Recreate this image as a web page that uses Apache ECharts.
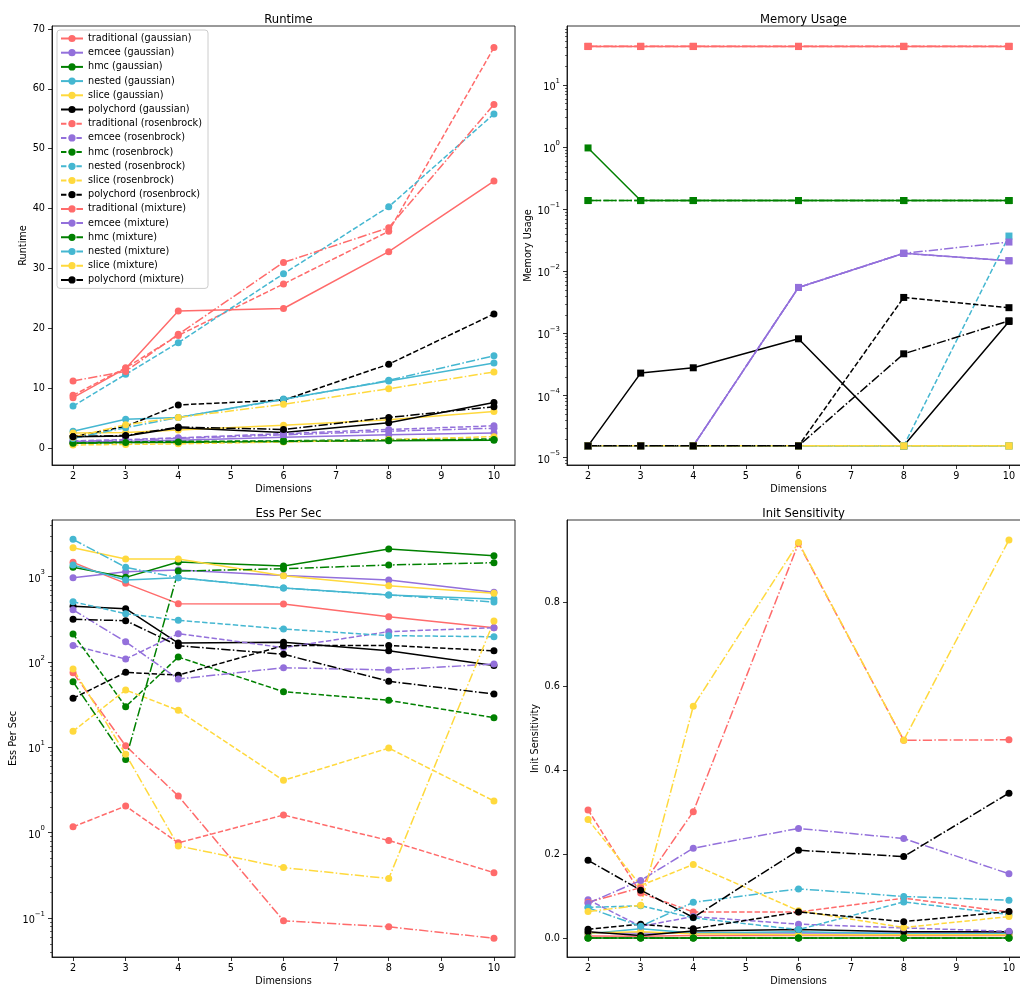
<!DOCTYPE html>
<html>
<head>
<meta charset="utf-8">
<script src="https://cdn.jsdelivr.net/npm/echarts@6/dist/echarts.min.js"></script>
<style>html,body{margin:0;padding:0;background:#fff}#chart{width:1020px;height:990px}</style>
</head>
<body>
<div id="chart"></div>
<script>
// ---------------- data ----------------
const dims = [2, 3, 4, 6, 8, 10];
const xTicks = [2, 3, 4, 5, 6, 7, 8, 9, 10];
const runtimeTicks = [0, 10, 20, 30, 40, 50, 60, 70];
const memoryTicks = [1e-5, 1e-4, 1e-3, 1e-2, 1e-1, 1, 10];
const essTicks = [0.1, 1, 10, 100, 1000];
const initTicks = [0, 0.2, 0.4, 0.6, 0.8];
const methods = ['traditional', 'emcee', 'hmc', 'nested', 'slice', 'polychord'];
const problems = ['gaussian', 'rosenbrock', 'mixture'];
const titles = ['Runtime', 'Memory Usage', 'Ess Per Sec', 'Init Sensitivity'];

// Runtime
const rtTraditionalGaussian = [8.4, 13.3, 22.9, 23.3, 32.8, 44.6];
const rtEmceeGaussian = [1.0, 1.1, 1.3, 1.8, 2.2, 2.5];
const rtHmcGaussian = [0.8, 0.9, 0.9, 1.1, 1.2, 1.3];
const rtNestedGaussian = [2.8, 4.8, 5.1, 8.2, 11.2, 14.2];
const rtSliceGaussian = [2.5, 2.6, 3.0, 3.8, 4.7, 6.1];
const rtPolychordGaussian = [1.9, 2.0, 3.4, 2.6, 4.2, 7.6];
const rtTraditionalRosenbrock = [8.8, 13.4, 18.8, 27.4, 36.2, 66.9];
const rtEmceeRosenbrock = [1.2, 1.4, 1.7, 2.4, 3.1, 3.7];
const rtHmcRosenbrock = [0.9, 1.0, 1.1, 1.2, 1.4, 1.5];
const rtNestedRosenbrock = [7.0, 12.3, 17.6, 29.1, 40.3, 55.8];
const rtSliceRosenbrock = [0.5, 0.6, 0.7, 1.0, 1.4, 1.9];
const rtPolychordRosenbrock = [1.9, 3.6, 7.2, 8.0, 14.0, 22.4];
const rtTraditionalMixture = [11.2, 12.8, 19.0, 31.0, 36.8, 57.4];
const rtEmceeMixture = [1.1, 1.3, 1.6, 2.2, 2.8, 3.3];
const rtHmcMixture = [0.8, 0.9, 1.0, 1.1, 1.3, 1.4];
const rtNestedMixture = [1.6, 3.4, 5.1, 8.1, 11.3, 15.4];
const rtSliceMixture = [1.8, 3.9, 5.1, 7.3, 9.9, 12.7];
const rtPolychordMixture = [1.9, 2.1, 3.5, 3.1, 5.1, 6.9];

// Memory usage
const memTraditionalGaussian = [41.8, 41.8, 41.8, 41.8, 41.8, 41.8];
const memEmceeGaussian = [1.55e-5, 1.55e-5, 1.55e-5, 5.5e-3, 0.0195, 0.0148];
const memHmcGaussian = [0.97, 0.138, 0.138, 0.138, 0.138, 0.138];
const memNestedGaussian = [1.55e-5, 1.55e-5, 1.55e-5, 1.55e-5, 1.55e-5, 1.55e-5];
const memSliceGaussian = [1.55e-5, 1.55e-5, 1.55e-5, 1.55e-5, 1.55e-5, 1.55e-5];
const memPolychordGaussian = [1.55e-5, 2.3e-4, 2.8e-4, 8.2e-4, 1.55e-5, 1.56e-3];
const memTraditionalRosenbrock = [41.6, 41.6, 41.6, 41.6, 41.6, 41.6];
const memEmceeRosenbrock = [1.55e-5, 1.55e-5, 1.55e-5, 5.5e-3, 0.0195, 0.0148];
const memHmcRosenbrock = [0.138, 0.138, 0.138, 0.138, 0.138, 0.138];
const memNestedRosenbrock = [1.55e-5, 1.55e-5, 1.55e-5, 1.55e-5, 1.55e-5, 0.037];
const memSliceRosenbrock = [1.55e-5, 1.55e-5, 1.55e-5, 1.55e-5, 1.55e-5, 1.55e-5];
const memPolychordRosenbrock = [1.55e-5, 1.55e-5, 1.55e-5, 1.55e-5, 3.8e-3, 2.6e-3];
const memTraditionalMixture = [42.0, 42.0, 42.0, 42.0, 42.0, 42.0];
const memEmceeMixture = [1.55e-5, 1.55e-5, 1.55e-5, 5.5e-3, 0.0195, 0.0296];
const memHmcMixture = [0.138, 0.138, 0.138, 0.138, 0.138, 0.138];
const memNestedMixture = [1.55e-5, 1.55e-5, 1.55e-5, 1.55e-5, 1.55e-5, 1.55e-5];
const memSliceMixture = [1.55e-5, 1.55e-5, 1.55e-5, 1.55e-5, 1.55e-5, 1.55e-5];
const memPolychordMixture = [1.55e-5, 1.55e-5, 1.55e-5, 1.55e-5, 4.7e-4, 1.6e-3];

// ESS per second
const essTraditionalGaussian = [1466, 832, 481, 476, 338, 252];
const essEmceeGaussian = [968, 1137, 1191, 1030, 910, 653];
const essHmcGaussian = [1282, 978, 1479, 1327, 2100, 1753];
const essNestedGaussian = [1365, 910, 968, 733, 607, 545];
const essSliceGaussian = [2175, 1603, 1603, 1023, 780, 635];
const essPolychordGaussian = [448, 420, 166, 170, 135, 91];
const essTraditionalRosenbrock = [1.17, 2.05, 0.76, 1.61, 0.81, 0.34];
const essEmceeRosenbrock = [156, 108, 214, 147, 226, 252];
const essHmcRosenbrock = [212, 29.9, 114, 44.8, 35.5, 22.2];
const essNestedRosenbrock = [507, 367, 307, 243, 203, 197];
const essSliceRosenbrock = [15.4, 46.9, 27.1, 4.1, 9.8, 2.35];
const essPolychordRosenbrock = [37.5, 75.5, 70, 155, 156, 135];
const essTraditionalMixture = [74.8, 10.4, 2.69, 0.093, 0.079, 0.058];
const essEmceeMixture = [408, 172, 63, 85.5, 80.4, 94.5];
const essHmcMixture = [58.6, 7.2, 1159, 1233, 1365, 1451];
const essNestedMixture = [2725, 1282, 968, 733, 607, 503];
const essSliceMixture = [82.6, 8.3, 0.70, 0.39, 0.29, 301];
const essPolychordMixture = [315, 304, 155, 123, 59.3, 42];

// Init sensitivity
const initTraditionalGaussian = [0.005, 0.004, 0.006, 0.006, 0.006, 0.006];
const initEmceeGaussian = [0.012, 0.012, 0.012, 0.012, 0.012, 0.012];
const initHmcGaussian = [0, 0, 0, 0, 0, 0];
const initNestedGaussian = [0.010, 0.022, 0.012, 0.015, 0.010, 0.010];
const initSliceGaussian = [0.012, 0.015, 0.010, 0.008, 0.008, 0.008];
const initPolychordGaussian = [0.015, 0.006, 0.017, 0.020, 0.015, 0.015];
const initTraditionalRosenbrock = [0.305, 0.107, 0.062, 0.062, 0.095, 0.062];
const initEmceeRosenbrock = [0.091, 0.028, 0.051, 0.033, 0.024, 0.016];
const initHmcRosenbrock = [0, 0, 0, 0, 0, 0];
const initNestedRosenbrock = [0.073, 0.077, 0.048, 0.020, 0.086, 0.056];
const initSliceRosenbrock = [0.282, 0.125, 0.175, 0.065, 0.025, 0.051];
const initPolychordRosenbrock = [0.021, 0.033, 0.022, 0.062, 0.039, 0.063];
const initTraditionalMixture = [0.085, 0.120, 0.301, 0.940, 0.471, 0.472];
const initEmceeMixture = [0.083, 0.137, 0.214, 0.261, 0.237, 0.153];
const initHmcMixture = [0, 0, 0, 0, 0, 0];
const initNestedMixture = [0.072, 0.028, 0.085, 0.117, 0.099, 0.090];
const initSliceMixture = [0.063, 0.078, 0.552, 0.942, 0.471, 0.948];
const initPolychordMixture = [0.185, 0.114, 0.049, 0.209, 0.194, 0.345];

// ---------------- tables built from the arrays ----------------
const runtimeTable = {
  gaussian: [rtTraditionalGaussian, rtEmceeGaussian, rtHmcGaussian, rtNestedGaussian, rtSliceGaussian, rtPolychordGaussian],
  rosenbrock: [rtTraditionalRosenbrock, rtEmceeRosenbrock, rtHmcRosenbrock, rtNestedRosenbrock, rtSliceRosenbrock, rtPolychordRosenbrock],
  mixture: [rtTraditionalMixture, rtEmceeMixture, rtHmcMixture, rtNestedMixture, rtSliceMixture, rtPolychordMixture]
};
const memoryTable = {
  gaussian: [memTraditionalGaussian, memEmceeGaussian, memHmcGaussian, memNestedGaussian, memSliceGaussian, memPolychordGaussian],
  rosenbrock: [memTraditionalRosenbrock, memEmceeRosenbrock, memHmcRosenbrock, memNestedRosenbrock, memSliceRosenbrock, memPolychordRosenbrock],
  mixture: [memTraditionalMixture, memEmceeMixture, memHmcMixture, memNestedMixture, memSliceMixture, memPolychordMixture]
};
const essTable = {
  gaussian: [essTraditionalGaussian, essEmceeGaussian, essHmcGaussian, essNestedGaussian, essSliceGaussian, essPolychordGaussian],
  rosenbrock: [essTraditionalRosenbrock, essEmceeRosenbrock, essHmcRosenbrock, essNestedRosenbrock, essSliceRosenbrock, essPolychordRosenbrock],
  mixture: [essTraditionalMixture, essEmceeMixture, essHmcMixture, essNestedMixture, essSliceMixture, essPolychordMixture]
};
const initTable = {
  gaussian: [initTraditionalGaussian, initEmceeGaussian, initHmcGaussian, initNestedGaussian, initSliceGaussian, initPolychordGaussian],
  rosenbrock: [initTraditionalRosenbrock, initEmceeRosenbrock, initHmcRosenbrock, initNestedRosenbrock, initSliceRosenbrock, initPolychordRosenbrock],
  mixture: [initTraditionalMixture, initEmceeMixture, initHmcMixture, initNestedMixture, initSliceMixture, initPolychordMixture]
};

// ---------------- styles ----------------
const FONT = 'DejaVu Sans';
const colors = { traditional: '#ff6b6b', emcee: '#9370db', hmc: '#008000', nested: '#45b7d1', slice: '#ffd93d', polychord: '#000000' };
const dashes = { gaussian: 'solid', rosenbrock: [5.4, 2.3], mixture: [9.3, 2.3, 1.5, 2.3] };

// log tick labels as 10 with a raised exponent (rich text)
const logFmt = v => {
  const e = Math.round(Math.log10(v));
  return '{b|10}{s|' + String(e).replace('-', '\u2212') + '}';
};
const logRich = {
  b: { fontSize: 9.7, fontFamily: FONT, color: '#000', lineHeight: 15, verticalAlign: 'bottom' },
  s: { fontSize: 6.9, fontFamily: FONT, color: '#000', lineHeight: 15, verticalAlign: 'top' }
};

function minorLogTicks(lo, hi) {
  const out = [];
  for (let e = -7; e <= 4; e++) {
    for (let k = 2; k <= 9; k++) {
      const v = k * Math.pow(10, e);
      if (v >= lo && v <= hi) out.push(v);
    }
  }
  return out;
}

const grids = [
  { left: 52, top: 26, width: 463, height: 439 },
  { left: 567, top: 26, width: 463, height: 439 },
  { left: 52, top: 520, width: 463, height: 437 },
  { left: 567, top: 520, width: 463, height: 437 }
].map(g => Object.assign({ show: true, borderColor: '#000', borderWidth: 0.8, backgroundColor: 'transparent', containLabel: false, outerBoundsMode: 'none' }, g));

const axisLineStyle = { color: '#000', width: 0.8 };
const labelStyle = { color: '#000', fontSize: 9.7, fontFamily: FONT };
const nameStyle = { color: '#000', fontSize: 9.7, fontFamily: FONT };

const xAxes = [0, 1, 2, 3].map(i => ({
  type: 'value', gridIndex: i, min: 1.6, max: 10.4,
  name: 'Dimensions', nameLocation: 'middle', nameGap: 19, nameTextStyle: nameStyle,
  axisLine: { onZero: false, lineStyle: axisLineStyle },
  axisTick: { customValues: xTicks, length: 4, lineStyle: axisLineStyle },
  axisLabel: Object.assign({ customValues: xTicks, margin: 6 }, labelStyle),
  splitLine: { show: false }
}));

function mainY(grid, type, min, max, ticks, fmt, name, gap, rich) {
  const label = Object.assign({ customValues: ticks, margin: 7, formatter: fmt }, labelStyle);
  if (rich) label.rich = rich;
  return {
    type: type, gridIndex: grid, min: min, max: max, position: 'left',
    name: name, nameLocation: 'middle', nameGap: gap, nameTextStyle: nameStyle,
    axisLine: { onZero: false, lineStyle: axisLineStyle },
    axisTick: { customValues: ticks, length: 4, lineStyle: axisLineStyle },
    axisLabel: label,
    splitLine: { show: false }, minorTick: { show: false }
  };
}
function minorY(grid, min, max) {
  return {
    type: 'log', gridIndex: grid, min: min, max: max, position: 'left', offset: 0,
    axisLine: { show: false, onZero: false },
    axisTick: { customValues: minorLogTicks(min, max), length: 2, lineStyle: { color: '#000', width: 0.6 } },
    axisLabel: { show: false }, splitLine: { show: false }
  };
}

const memMin = Math.pow(10, -5.118), memMax = Math.pow(10, 1.95);
const essMin = Math.pow(10, -1.456), essMax = Math.pow(10, 3.662);

const yAxes = [
  mainY(0, 'value', -2.84, 70.5, runtimeTicks, v => String(Math.round(v)), 'Runtime', 22.5),
  mainY(1, 'log', memMin, memMax, memoryTicks, logFmt, 'Memory Usage', 33, logRich),
  minorY(1, memMin, memMax),
  mainY(2, 'log', essMin, essMax, essTicks, logFmt, 'Ess Per Sec', 33.5, logRich),
  minorY(2, essMin, essMax),
  mainY(3, 'value', -0.0452, 0.9955, initTicks, v => v.toFixed(1), 'Init Sensitivity', 24.5)
];

const panels = [
  { table: runtimeTable, x: 0, y: 0, symbol: 'circle' },
  { table: memoryTable, x: 1, y: 1, symbol: 'rect' },
  { table: essTable, x: 2, y: 3, symbol: 'circle' },
  { table: initTable, x: 3, y: 5, symbol: 'circle' }
];

const series = [];
const legendNames = [];
panels.forEach((p, pi) => {
  problems.forEach(prob => {
    methods.forEach((m, mi) => {
      const name = m + ' (' + prob + ')';
      if (pi === 0) legendNames.push(name);
      const vals = p.table[prob][mi];
      series.push({
        type: 'line', name: name,
        xAxisIndex: p.x, yAxisIndex: p.y,
        data: dims.map((d, k) => [d, vals[k]]),
        symbol: p.symbol, symbolSize: 7, showSymbol: true,
        itemStyle: { color: colors[m] },
        lineStyle: { color: colors[m], width: 1.5, type: dashes[prob] },
        emphasis: { disabled: true },
        animation: false
      });
    });
  });
});

const titleCenters = [[283.5, 9], [798.5, 9], [283.5, 503], [798.5, 503]];
const option = {
  backgroundColor: '#fff',
  animation: false,
  title: titles.map((t, i) => ({
    text: t, left: titleCenters[i][0], top: titleCenters[i][1], textAlign: 'center',
    textStyle: { fontSize: 11.6, fontWeight: 'normal', color: '#000', fontFamily: FONT }
  })),
  grid: grids,
  xAxis: xAxes,
  yAxis: yAxes,
  legend: {
    data: legendNames, orient: 'vertical', left: 57, top: 30,
    itemWidth: 22, itemHeight: 9, itemGap: 3.2,
    padding: [3, 6, 3, 3],
    backgroundColor: 'rgba(255,255,255,0.8)', borderColor: '#cccccc', borderWidth: 1, borderRadius: 3,
    textStyle: { fontSize: 9.7, fontFamily: FONT, color: '#000', lineHeight: 11 },
    z: 10
  },
  series: series
};

const chart = echarts.init(document.getElementById('chart'), null, { renderer: 'canvas' });
chart.setOption(option);
</script>
</body>
</html>
